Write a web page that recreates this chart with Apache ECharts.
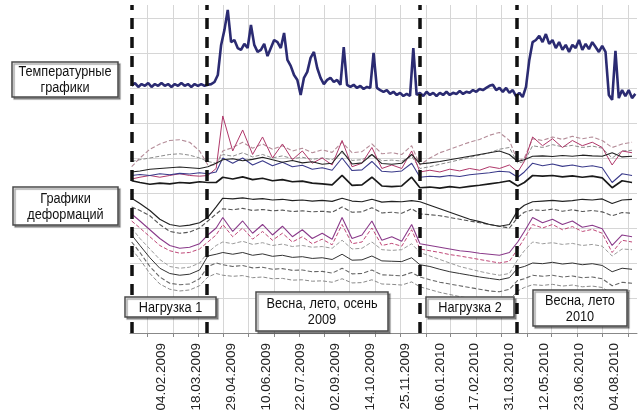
<!DOCTYPE html>
<html><head><meta charset="utf-8">
<script src="https://cdn.jsdelivr.net/npm/echarts@6/dist/echarts.min.js"></script>
<style>html,body{margin:0;padding:0;background:#fff}#c{width:642px;height:414px}</style>
</head><body><div id="c"></div>
<script>
// x values: days counted from 04.02.2009
const tickLabels = ['04.02.2009','18.03.2009','29.04.2009','10.06.2009','22.07.2009','02.09.2009','14.10.2009','25.11.2009','06.01.2010','17.02.2010','31.03.2010','12.05.2010','23.06.2010','04.08.2010'];
const tickDays = [0,42,84,126,168,210,252,294,336,378,420,462,504,546];
const gridDays = [-17,14,44,75,105,136,166,197,227,258,288,319,349,380,410,441,471,502,532,563];
const periodBounds = [-36,55,312,429];

const tempDays = [-36,-32,-28,-24,-20,-16,-12,-8,-4,0,4,8,12,16,20,24,28,32,36,40,44,48,52,56,60,64,
68,72,76,80,84,88,92,96,100,104,108,112,116,120,124,128,132,136,140,144,148,152,156,160,164,168,172,176,180,184,188,192,196,200,
204,208,212,216,220,224,228,232,236,240,244,248,252,256,260,264,268,272,276,280,284,288,292,296,300,304,308,312,316,320,324,328,332,336,
340,344,348,352,356,360,364,368,372,376,380,384,388,392,396,400,404,408,412,416,420,424,428,432,436,440,444,448,452,456,460,464,468,472,
476,480,484,488,492,496,500,504,508,512,516,520,524,528,532,536,540,544,548,552,556,560,564,568,572];
const tempValues = [70.6,71.4,70.3,71.1,70.6,71.4,70.3,71.1,70.6,71.4,70.6,71.1,70.3,71.1,70.6,71.4,70.6,71.1,70.3,71.1,70.6,71.1,70.6,70.9,71.1,71.7,
73.7,82.3,86.6,92.3,83.1,83.7,81.4,80.9,82.6,81.4,88.0,82.3,80.3,80.9,82.6,79.1,81.4,83.7,83.1,81.4,85.7,78.0,76.3,73.7,72.3,68.0,72.9,74.6,78.6,80.3,75.7,72.9,71.1,72.3,
72.9,71.7,72.3,70.9,81.7,70.9,70.3,70.9,70.0,70.6,69.7,70.3,70.0,80.0,70.0,69.4,68.9,69.4,68.3,68.9,68.0,68.6,67.7,68.3,67.7,81.4,68.0,68.6,67.7,68.9,68.0,68.6,67.7,68.6,
68.0,68.9,68.0,68.6,68.3,69.1,68.3,68.9,68.6,69.4,68.9,69.7,69.4,70.0,70.6,70.9,69.4,70.0,68.9,70.0,68.6,69.4,67.7,68.6,67.4,70.3,78.0,83.1,83.7,84.9,83.1,85.4,82.6,83.7,
81.4,83.1,80.9,82.3,80.3,82.3,81.4,83.7,80.9,82.6,81.1,83.1,81.7,80.3,82.0,80.3,68.0,66.6,80.6,67.1,69.4,67.7,69.4,67.1,68.3];

const defDays = [-36,-26,-14,-2,10,22,34,46,56,66,74,86,98,110,122,134,146,158,170,182,194,206,218,230,242,254,266,278,290,302,312,324,336,348,360,372,384,396,408,420,430,438,448,460,472,484,496,508,520,532,544,556,568];
const defU1 = [46,46.3,46.8,47,47.2,47.4,47.2,47,47.5,48.5,49.5,49.8,49.2,49.6,50.2,49.5,48.8,49.3,48.6,48.9,48.2,48.5,52,48.3,48.6,51,48.4,48.2,48.5,51,48.3,48.6,49,49.5,50,50.5,51,51.5,52,51,49,49.5,50.5,50.6,50.4,50.7,50.5,50.8,50.6,50.5,51.5,50.3,50.5];
const defU2 = [47.5,50,52.5,54,55,55.2,54.5,52,48,48,52,53,54.5,52.8,54,52.5,53.5,52,52.8,51.5,52.3,51.6,54.5,51.5,51.8,54,51.2,51.5,51,53.5,48,50,51.5,52.5,53.5,54.5,55.3,56.5,57.3,55,49,50,55.5,55,56,55.3,56.2,55.5,56,55,53,54,54.5];
const defU3 = [44,44.5,45,44.5,45,45.5,45,44.8,45,47,62,52,58,51,56,50,54,49.5,52,48.5,50,48,55,47.5,48.5,53,47,48,47,52,46,46.5,46,46.8,46.3,47,46.5,47.5,47,48,46,49,56,53.5,55.5,53,55,53.5,54.5,53,48,52,51.5];
const defU4 = [45,45.3,45,45.5,45.2,45.6,45.4,45.8,45.5,46,50,48.5,50,48,49.2,47.8,48.8,47.5,47.9,46.8,47.2,46.5,50,46.4,46.6,49,46.2,46,46.3,48.5,44.5,44.8,44.6,45,44.7,45.2,45.5,45.8,46.2,46,44.5,46,48.5,47.8,48.3,47.6,48,47.4,47.8,47.2,43,45.5,45];
const defU5 = [43.5,43,42.5,42.8,42.6,43,42.8,43.2,43,43,44.5,44,44.6,43.8,44.2,43.5,43.8,43.2,43.4,42.8,42.6,42.3,45,42.2,42.3,44.5,42,41.8,42,44.5,41.5,41.7,41.4,41.8,41.5,41.9,42.2,42.6,43,43.5,42,43,45,44.8,45,44.6,44.9,44.5,44.8,44.3,41.5,43.5,43];
const defU6 = [49,49.5,50,50.5,51,51.2,50.8,50,49,48.5,51,50.5,51.5,50.3,51,50,50.6,49.8,50.2,49.6,50,49.5,51.5,49.3,49.5,51,49.2,49.4,49.1,50.5,47,47.5,48.2,48.8,49.5,50.2,50.8,51.5,52.5,53,48.5,49,53.5,53,53.8,53.2,53.6,53,53.4,52.8,50,52,52.2];
const defL1 = [38.5,37,35,32.5,31,30.5,30.8,31.5,33,36,38.5,38.3,38.6,38.2,38.4,38,38.2,37.8,38,37.7,37.9,37.6,38.5,37.7,37.5,38.2,37.4,37.6,37.5,37.8,37.5,36.5,35.5,34.5,33.5,32.5,31.8,31,30.5,31,35,36.5,37.5,37.7,37.9,37.6,37.8,38.2,38,38.3,37,38,38.2];
const defL2 = [36,35,33.5,31,29,28.5,28.8,30,32,34,35.5,35.2,35.6,35,35.3,34.9,35.1,34.7,34.9,34.6,34.8,34.5,36,34.5,34.6,35.8,34.3,34.5,34.2,35.5,34,33.8,33.5,33,32.5,32,31.5,31,30.5,30,33,34.5,35.2,35,35.4,34.8,35.2,34.7,35,34.6,33.5,34.4,34.2];
const defL3 = [34,32,29.5,27,25,24.2,24.5,25.5,28,30,33,29,32,28.5,31,28,30.5,27.5,29.5,27,28.5,26.8,33,27,28,32,26.5,27.5,26.2,31,25.5,25,24.5,24,23.5,23.2,22.8,22.5,22.2,23,26,29,33,31.5,32.5,31,32,30.2,30.8,29.8,25,28,27.5];
const defL4 = [32,30,27.5,25,23.5,22.8,23,24,26,28,31,27.5,30,26.8,29,26.5,28.5,26,27.5,25.5,26.8,25.2,31,25.5,26,30,25,25.6,24.8,29.5,24,23.5,23,22.4,22,21.5,21,20.5,20,20.5,24,27,31,30,31,29.5,30.4,29,29.6,28.5,23,26.5,26];
const defL5 = [30,27,24,21,19,18.5,18.8,20,23,25,26,25.5,26.2,25.3,25.8,25,25.4,24.7,25,24.5,24.7,24.2,26.5,24,24.2,26,23.8,23.6,23.8,25.5,23,22,21,20,19,18.3,17.6,17,16.5,17,21,23.5,26,25.5,25.8,25.3,25.6,25,25.3,24.8,22,24,23.8];
const defL6 = [28,25,21.5,18.5,17,16.5,16.8,18,22,22.5,23,22.5,23,22.2,22.6,21.9,22.2,21.6,21.8,21.3,21.5,21,22.5,20.8,20.9,22,20.6,20.5,20.4,21.5,19.5,19,18.2,17.5,17,16.5,16,15.6,15.2,15.8,18.5,19,20,19.8,20.2,19.7,20,19.5,19.8,19.3,17.5,18.5,18.2];
const defL7 = [26,23,19,16,14.2,13.8,14,15.5,19,20,19.5,19,19.3,18.6,18.8,18.2,18.4,17.9,18,17.5,17.6,17.1,18.5,16.9,17,18,16.6,16.5,16.3,17.3,16,15.2,14.5,14,13.5,13,12.5,12,11.8,12.5,15,15.5,16.5,16.2,16.5,16,16.3,15.8,16,15.5,13.5,14.5,14.2];
const defL8 = [24,21,17,14,12.5,12,12.3,13.5,16,17,16.5,16.2,16.4,15.8,16,15.5,15.6,15.1,15.2,14.8,14.9,14.5,15.5,14.3,14.4,15.2,14,13.9,13.7,14.6,13.2,12.4,11.6,11,10.4,9.9,9.5,9.1,8.8,9.4,12,13,13.8,13.6,13.9,13.4,13.7,13.2,13.4,13,11.2,12.2,12];

const FONT = "'Liberation Sans', Arial, sans-serif";

const defStyles = [
  [defU2, '#b48c98', 'dashed', 1.1],
  [defU6, '#8c8c8c', 'dashed', 1],
  [defU3, '#b0386a', 'solid', 1],
  [defU4, '#3a3a8a', 'solid', 1.1],
  [defU1, '#222222', 'solid', 1.1],
  [defU5, '#1a1a1a', 'solid', 1.7],
  [defL2, '#555555', 'dashed', 1.1],
  [defL5, '#9a9a9a', 'dashed', 1],
  [defL7, '#666666', 'dashed', 1.1],
  [defL8, '#8a8a8a', 'dashed', 1],
  [defL4, '#c04878', 'dashed', 1],
  [defL3, '#8a3a8a', 'solid', 1.1],
  [defL6, '#333333', 'solid', 1],
  [defL1, '#222222', 'solid', 1.2]
];

const series = defStyles.map(([arr, color, type, width]) => ({
  type: 'line', symbol: 'none', silent: true,
  data: defDays.map((d, i) => [d, arr[i]]),
  lineStyle: { color, type, width }, z: 2
}));
series.push({
  type: 'line', symbol: 'none', silent: true,
  data: tempDays.map((d, i) => [d, tempValues[i]]),
  lineStyle: { color: '#2b2b72', width: 2.6 }, z: 3
});
series.push({
  type: 'line', symbol: 'none', data: [], z: 5,
  markLine: {
    silent: true, symbol: ['none', 'none'], label: { show: false },
    lineStyle: { type: [11, 8], width: 3.5, color: '#111' },
    data: periodBounds.map(d => ({ xAxis: d }))
  }
});

function box(x, y, w, h, text) {
  return {
    type: 'group', z: 100, zlevel: 1,
    children: [
      { type: 'rect', z: 100, zlevel: 1, shape: { x, y, width: w, height: h },
        style: { fill: '#fff', stroke: '#4a4a4a', lineWidth: 1.5, shadowColor: 'rgba(0,0,0,0.35)', shadowOffsetX: 2, shadowOffsetY: 2, shadowBlur: 1 } },
      { type: 'text', z: 101, zlevel: 1, x: x + w / 2, y: y + h / 2 + 0.5, scaleX: 0.82, scaleY: 1,
        style: { text, x: 0, y: 0, align: 'center', verticalAlign: 'middle',
        fontSize: 15.5, fontFamily: FONT, lineHeight: 16, fill: '#111' } }
    ]
  };
}

const chart = echarts.init(document.getElementById('c'), null, { renderer: 'canvas' });
chart.setOption({
  animation: false,
  backgroundColor: '#fff',
  grid: { left: 130, right: 5, top: 5, bottom: 81 },
  xAxis: {
    type: 'value', min: -38, max: 574,
    axisLine: { lineStyle: { color: '#888', width: 1 } },
    axisTick: { customValues: gridDays, length: 4, lineStyle: { color: '#888' } },
    axisLabel: {
      customValues: tickDays, rotate: 90, margin: 10,
      fontFamily: FONT, fontSize: 13.5, color: '#222',
      formatter: v => { const i = tickDays.indexOf(v); return i >= 0 ? tickLabels[i] : ''; }
    },
    splitLine: { show: true, lineStyle: { color: '#d6d6d6', width: 1 } }
  },
  yAxis: {
    type: 'value', min: 0, max: 93.7, interval: 10,
    axisLine: { show: false }, axisTick: { show: false }, axisLabel: { show: false },
    splitLine: { show: true, showMaxLine: false, lineStyle: { color: '#d6d6d6', width: 1 } }
  },
  series,
  graphic: [
    box(12, 62, 106, 35, 'Температурные\nграфики'),
    box(13, 187, 105, 38, 'Графики\nдеформаций'),
    box(125, 297, 91, 20, 'Нагрузка 1'),
    box(256, 292, 132, 39, 'Весна, лето, осень\n2009'),
    box(426, 297, 88, 20, 'Нагрузка 2'),
    box(533, 290, 94, 36, 'Весна, лето\n2010')
  ]
});
</script></body></html>
